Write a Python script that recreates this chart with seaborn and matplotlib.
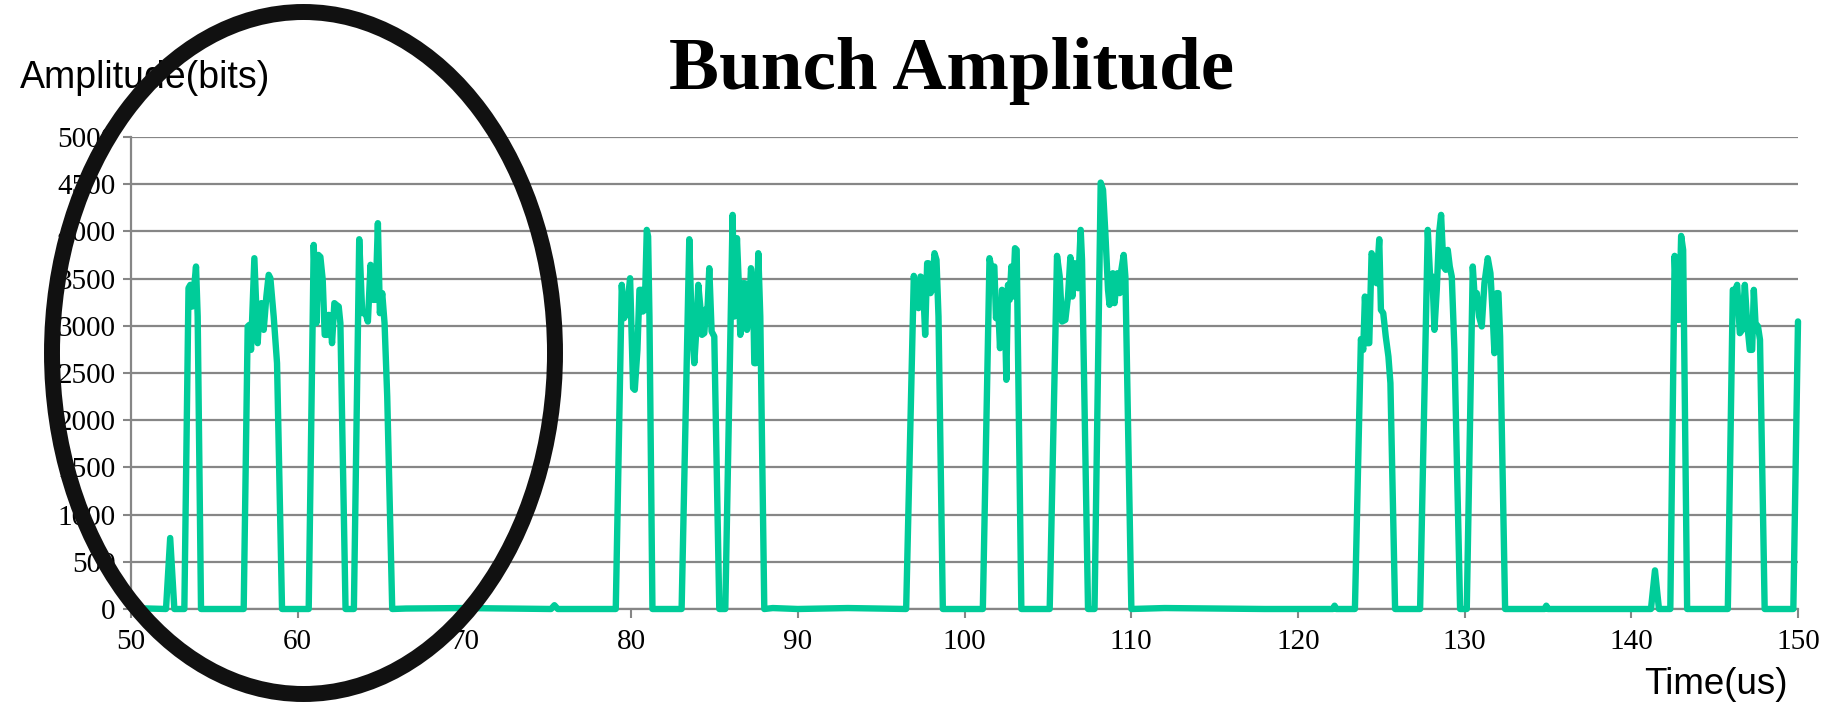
import matplotlib
matplotlib.use("Agg")
import matplotlib.pyplot as plt
from matplotlib.patches import Ellipse
import seaborn as sns
import pandas as pd

# ---- data (time in us, amplitude in bits) ----
time_us = [
    50.0, 51.0, 52.1, 52.35, 52.6,
    53.2, 53.45, 53.56, 53.68, 53.9, 54.0, 54.2,
    56.76, 57.0, 57.1, 57.2, 57.4, 57.6, 57.72, 57.82, 57.96, 58.12, 58.26, 58.36, 58.56, 58.76, 59.06,
    60.66, 60.96, 61.12, 61.24, 61.36, 61.5, 61.62, 61.76, 61.86, 61.96, 62.06, 62.2, 62.32, 62.46, 62.56, 62.87,
    63.37, 63.69, 63.87, 64.07, 64.21, 64.37, 64.51, 64.67, 64.81, 64.93, 65.07, 65.21, 65.37, 65.67,
    66.5, 70.0, 75.2, 75.4, 75.6,
    79.08, 79.44, 79.58, 79.72, 79.94, 80.12, 80.22, 80.38, 80.5, 80.62, 80.7, 80.82, 80.94, 81.02, 81.1, 81.28,
    83.03, 83.49, 83.63, 83.79, 83.89, 84.03, 84.15, 84.25, 84.39, 84.49, 84.59, 84.69, 84.83, 84.99, 85.29, 85.45,
    85.65, 86.09, 86.19, 86.35, 86.45, 86.55, 86.69, 86.83, 86.95, 87.09, 87.19, 87.31, 87.39, 87.49, 87.63, 87.75, 87.99,
    88.5, 90.0, 93.0,
    96.5, 96.96, 97.1, 97.24, 97.36, 97.5, 97.64, 97.76, 97.84, 97.96, 98.06, 98.2, 98.32, 98.44, 98.7,
    101.1, 101.5, 101.64, 101.79, 101.89, 102.01, 102.13, 102.25, 102.39, 102.51, 102.61, 102.71, 102.81, 102.91, 103.03, 103.13, 103.41,
    105.11, 105.55, 105.71, 105.85, 106.05, 106.21, 106.35, 106.47, 106.61, 106.73, 106.81, 106.97, 107.05, 107.41, 107.61,
    107.8, 108.17, 108.31, 108.45, 108.61, 108.7, 108.9, 109.0, 109.17, 109.31, 109.41, 109.55, 109.65, 110.01,
    112.0, 118.0, 122.1, 122.2, 122.3,
    123.42, 123.78, 123.92, 124.02, 124.16, 124.28, 124.42, 124.58, 124.72, 124.88, 124.98, 125.12, 125.27, 125.43, 125.55, 125.83,
    127.33, 127.79, 127.93, 128.07, 128.19, 128.33, 128.47, 128.59, 128.73, 128.87, 128.99, 129.11, 129.23, 129.39, 129.73, 129.93,
    130.13, 130.49, 130.59, 130.73, 130.87, 131.03, 131.19, 131.39, 131.55, 131.67, 131.79, 131.93, 132.03, 132.13, 132.43,
    134.8, 134.9, 135.0,
    141.18, 141.42, 141.66, 142.34,
    142.6, 142.75, 142.87, 142.99, 143.11, 143.35,
    145.79, 146.09, 146.21, 146.35, 146.51, 146.65, 146.81, 146.95, 147.11, 147.25, 147.35, 147.45, 147.6, 147.72, 148.0,
    149.72, 150.0,
]

amplitude_bits = [
    10, 5, 0, 752, 0,
    0, 3400, 3434, 3204, 3628, 3100, 0,
    0, 2993, 3010, 2745, 3716, 2816, 3222, 3240, 2957, 3310, 3540, 3505, 3098, 2604, 0,
    0, 3857, 3028, 3751, 3730, 3487, 2904, 2904, 3116, 3063, 2816, 3240, 3222, 3204, 3028, 0,
    0, 3917, 3134, 3134, 3045, 3646, 3275, 3275, 4087, 3134, 3346, 3028, 2252, 0,
    5, 10, 0, 40, 0,
    0, 3434, 3081, 3134, 3504, 2340, 2322, 2745, 3381, 3381, 3151, 3169, 4016, 3945, 3098, 0,
    0, 3917, 3028, 2604, 2887, 3434, 3204, 2904, 2922, 3169, 3204, 3610, 2940, 2887, 0, 0,
    0, 4175, 3098, 3928, 3487, 2904, 3451, 3451, 2957, 3169, 3610, 3451, 2604, 2604, 3769, 3098, 0,
    10, 0, 10,
    0, 3529, 3222, 3187, 3522, 3504, 2904, 3663, 3663, 3346, 3381, 3769, 3698, 3098, 0,
    0, 3716, 3593, 3628, 3081, 3240, 2763, 3381, 3346, 2428, 3434, 3275, 3628, 3310, 3822, 3804, 0,
    0, 3741, 3522, 3045, 3063, 3310, 3727, 3310, 3663, 3593, 3398, 4016, 3699, 0, 0,
    0, 4517, 4440, 3981, 3381, 3222, 3557, 3240, 3557, 3346, 3593, 3751, 3522, 0,
    10, 0, 0, 35, 0,
    0, 2859, 2745, 3310, 2816, 2816, 3769, 3698, 3451, 3917, 3169, 3134, 2887, 2675, 2393, 0,
    0, 4016, 3522, 3522, 2957, 3381, 3981, 4175, 3628, 3593, 3804, 3628, 3522, 2745, 0, 0,
    0, 3628, 3346, 3346, 3098, 2993, 3451, 3716, 3557, 3169, 2710, 3346, 3346, 2887, 0,
    0, 35, 0,
    0, 409, 0, 0,
    3741, 3063, 3063, 3952, 3804, 0,
    0, 3381, 3363, 3434, 2922, 2957, 3434, 3028, 2745, 2745, 3381, 3028, 2993, 2852, 0,
    0, 3046,
]

x_ticks = list(range(50, 151, 10))
y_ticks = list(range(0, 5001, 500))

title_text = "Bunch Amplitude"
y_label = "Amplitude(bits)"
x_label = "Time(us)"

# ---- styling ----
sns.set_style("white")
plt.rcParams["font.family"] = ["Liberation Serif", "DejaVu Serif"]
plt.rcParams["text.color"] = "black"
plt.rcParams["axes.labelcolor"] = "black"
plt.rcParams["xtick.color"] = "black"
plt.rcParams["ytick.color"] = "black"

W, H = 1837, 705
fig = plt.figure(figsize=(W / 100, H / 100), dpi=100)
ax = fig.add_axes([131 / W, (H - 609) / H, (1798 - 131) / W, (609 - 137) / H])

df = pd.DataFrame({"t": time_us, "a": amplitude_bits})
sns.lineplot(data=df, x="t", y="a", ax=ax, color="#00CC99", linewidth=4.6,
             sort=False, estimator=None, zorder=3)
for ln in ax.lines:
    ln.set_clip_on(False)
    ln.set_solid_joinstyle("round")
    ln.set_solid_capstyle("round")

grid_c = "#868686"
ax.set_xlim(50, 150)
ax.set_ylim(0, 5000)
ax.set_xticks(x_ticks)
ax.set_yticks(y_ticks)
ax.set_xticklabels([str(v) for v in x_ticks])
ax.set_yticklabels([str(v) for v in y_ticks])
ax.yaxis.grid(True, color=grid_c, linewidth=1.6)
ax.xaxis.grid(False)
ax.set_axisbelow(True)
for s in ["top", "right"]:
    ax.spines[s].set_visible(False)
for s in ["left", "bottom"]:
    ax.spines[s].set_color(grid_c)
    ax.spines[s].set_linewidth(1.6)
ax.tick_params(axis="y", direction="out", length=6, width=1.5, color=grid_c,
               labelsize=21, labelcolor="black", pad=5, left=True)
ax.tick_params(axis="x", direction="out", length=6.5, width=1.5, color=grid_c,
               labelsize=21, labelcolor="black", pad=8, bottom=True)
ax.set_xlabel("")
ax.set_ylabel("")

fig.text(952 / W, 1 - 89 / H, title_text, ha="center", va="baseline", color="black",
         fontsize=54, fontweight="bold", family=["Liberation Serif", "DejaVu Serif"])
fig.text(20 / W, 1 - 78 / H, y_label, ha="left", va="center", color="black",
         fontsize=27, family=["Liberation Sans", "DejaVu Sans"])
fig.text(1788 / W, 1 - 685 / H, x_label, ha="right", va="center", color="black",
         fontsize=26.5, family=["Liberation Sans", "DejaVu Sans"])

# hand-drawn highlight ellipse (annotation)
ell = Ellipse((303.5 / W, 1 - 353 / H), 503 / W, 682 / H,
              transform=fig.transFigure, fill=False, edgecolor="#111111",
              linewidth=11.5, zorder=10)
fig.add_artist(ell)

fig.savefig("out.png", dpi=100, facecolor="white")
